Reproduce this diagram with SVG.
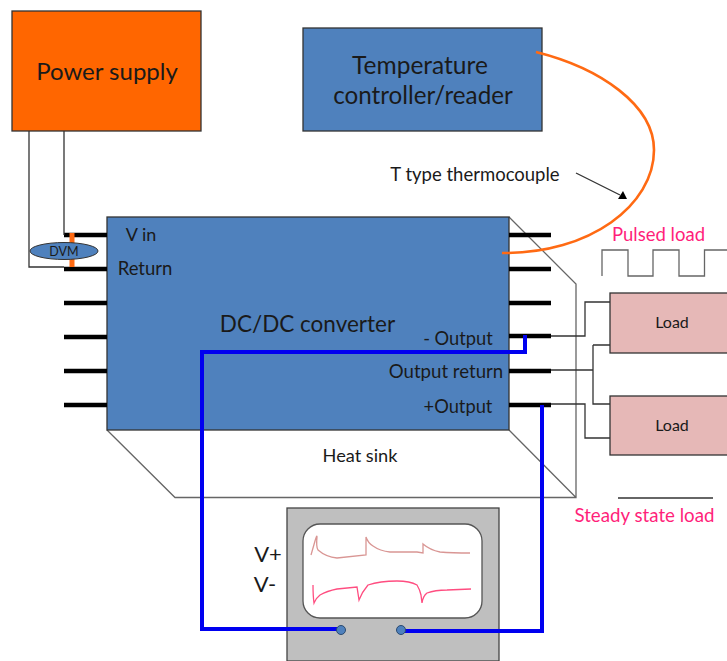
<svg xmlns="http://www.w3.org/2000/svg" width="727" height="661" viewBox="0 0 727 661">
<style>
text{font-family:Lato,"Liberation Sans",sans-serif;fill:#1a1a1a;text-anchor:middle}
.lead{stroke:#000;stroke-width:4.5;fill:none}
.thin{stroke:#333;stroke-width:1.3;fill:none}
.gray{stroke:#666;stroke-width:1.3;fill:none}
.blue{stroke:#0000f0;stroke-width:4;fill:none}
.org{stroke:#ff6a13;stroke-width:2.600;fill:none}
.box{stroke:#333;stroke-width:1.3}
.steel{fill:#4f81bd}
.load{fill:#e6b8b7}
.pink{fill:#ff1f7a}
</style>
<g id="heat-sink">
<path class="gray" d="M509 217L576 284V497.500H175L107 430M509 430L576 497.500"/>
<text x="360" y="462" font-size="18.200">Heat sink</text>
</g>
<g id="converter">
<rect class="steel box" x="107" y="217" width="402" height="213"/>
<text x="307.500" y="332" font-size="22.500">DC/DC converter</text>
<text x="141" y="241" font-size="18">V in</text>
<text x="145" y="275" font-size="18.500">Return</text>
<text x="458" y="345" font-size="18.300">- Output</text>
<text x="446" y="378" font-size="18.600">Output return</text>
<text x="458" y="413" font-size="18.300">+Output</text>
</g>
<g id="power-supply">
<rect x="12" y="11" width="189" height="120" fill="#ff6600" class="box"/>
<text x="107" y="80" font-size="24">Power supply</text>
</g>
<g id="temperature-controller">
<rect class="steel box" x="303" y="28" width="239" height="103"/>
<text x="420" y="74" font-size="24.500">Temperature</text>
<text x="423" y="104" font-size="24.200">controller/reader</text>
</g>
<g id="load-1">
<rect class="load box" x="610" y="293" width="130" height="60"/>
<text x="672" y="328" font-size="16">Load</text>
</g>
<g id="load-2">
<rect class="load box" x="610" y="396" width="130" height="59"/>
<text x="672" y="431" font-size="16">Load</text>
</g>
<g id="pulsed-load">
<text class="pink" x="658.500" y="241" font-size="18.500">Pulsed load</text>
<path class="gray" d="M602 276V250H628V276H653V250H679V276H704.500V250H727"/>
</g>
<g id="steady-state-load">
<path class="thin" d="M618 498H713"/>
<text class="pink" x="644.500" y="522" font-size="18.700">Steady state load</text>
</g>
<g id="oscilloscope">
<rect x="287" y="508" width="212" height="153" fill="#bfbfbf" stroke="#444" stroke-width="1.300"/>
<rect x="303" y="524" width="179" height="94" rx="17" fill="#fff" stroke="#555" stroke-width="1.300"/>
<path d="M311 555Q313 548 315 541T317 537Q316 547 318 550Q326 557 337 558L366 555V537Q368 543 373 546Q380 551 390 552L417 552L423 553V544Q430 550 440 552Q452 553 470 553" fill="none" stroke="#d99694" stroke-width="1.300"/>
<path d="M313 585Q313 596 314 603Q316 598 320 595Q327 591 337 589L357 587L359 600Q362 592 368 585Q380 581 397 581Q410 581 417 585Q420 590 421 595L422 603Q423 596 427 593Q435 590 447 590L471 589" fill="none" stroke="#ff4d80" stroke-width="1.300"/>
<text x="268" y="562" font-size="22">V+</text>
<text x="265" y="592" font-size="22">V-</text>
</g>
<g id="connectors">
<path class="lead" d="M64 235H107M64 269H107M64 303H107M64 337H107M64 371H107M64 405H107M509 235H551M509 269H551M509 303H551M509 336H551M509 371H551M509 405H551"/>
<path class="thin" d="M64 131V235M29 131V267H64"/>
<path d="M72 233V244M72 258V267" stroke="#ff6a13" stroke-width="5" fill="none"/>
<path class="org" d="M536 52C600 68 654 105 654 150C654 205 590 254 502 253"/>
<path stroke="#333" stroke-width="1.300" fill="none" d="M576 173L620 195"/>
<path d="M627 199L618 199L623 191Z" fill="#000"/>
<path class="thin" d="M551 336H585V302H610M551 370H593M593 345V404H610M593 345H610M551 404H585V438H610"/>
<path class="blue" d="M525 335V352H202V629H337"/>
<path class="blue" d="M542 405V631H405"/>
</g>
<g id="oscilloscope-terminals">
<circle cx="341" cy="630" r="4.500" fill="#4f81bd" stroke="#2a4a70"/>
<circle cx="401" cy="630" r="4.500" fill="#4f81bd" stroke="#2a4a70"/>
</g>
<g id="dvm">
<ellipse class="steel" cx="64" cy="251" rx="34" ry="8.500" stroke="#333"/>
<text x="64" y="256" font-size="12.500">DVM</text>
</g>
<g id="thermocouple-label">
<text x="475" y="181" font-size="18.500">T type thermocouple</text>
</g>
</svg>
